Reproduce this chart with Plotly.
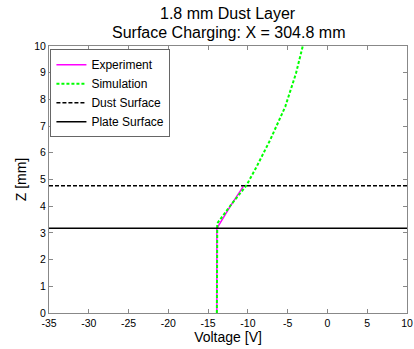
import plotly.graph_objects as go

exp_v = [-13.9, -13.9, -12.2, -10.6]
exp_z = [0.0, 3.17, 4.0, 4.73]

sim_v = [-13.9, -13.9, -13.85, -12.0, -10.2, -8.9, -7.2, -5.3, -3.95, -3.1]
sim_z = [0.0, 3.17, 3.36, 4.1, 4.77, 5.48, 6.48, 7.73, 8.98, 10.0]

dust_z = 4.77
plate_z = 3.17
x_range = [-35, 10]
y_range = [0, 10]
x_ticks = [-35, -30, -25, -20, -15, -10, -5, 0, 5, 10]
x_labels = ["-35", "-30", "-25", "-20", "-15", "-10", "-5", "0", "5", "10"]
y_ticks = [0, 1, 2, 3, 4, 5, 6, 7, 8, 9, 10]
title_lines = ["1.8 mm Dust Layer", "Surface Charging: X = 304.8 mm"]

fig = go.Figure()
fig.add_trace(go.Scatter(x=exp_v, y=exp_z, mode="lines", name="Experiment",
                         line=dict(color="#ff00ff", width=1.5)))
fig.add_trace(go.Scatter(x=sim_v, y=sim_z, mode="lines", name="Simulation",
                         line=dict(color="#00ff00", width=2, dash="3px,2px")))
fig.add_trace(go.Scatter(x=x_range, y=[dust_z, dust_z], mode="lines", name="Dust Surface",
                         line=dict(color="black", width=1.5, dash="4px,2px")))
fig.add_trace(go.Scatter(x=x_range, y=[plate_z, plate_z], mode="lines", name="Plate Surface",
                         line=dict(color="black", width=1.5)))

axis_common = dict(showgrid=False, zeroline=False, showline=True, linecolor="#888888",
                   linewidth=1, mirror="ticks", ticks="inside", ticklen=4,
                   tickcolor="#888888", tickfont=dict(size=10.5, color="black"),
                   automargin=False)

fig.update_layout(
    width=414, height=349,
    margin=dict(l=49, r=7, t=46, b=36),
    paper_bgcolor="white", plot_bgcolor="white",
    font=dict(family="Liberation Sans", color="black"),
    xaxis=dict(range=x_range, tickvals=x_ticks, ticktext=x_labels,
               title=dict(text="Voltage [V]", font=dict(size=14), standoff=0),
               **axis_common),
    yaxis=dict(range=y_range, tickvals=y_ticks, title=dict(text="Z [mm]", font=dict(size=14), standoff=4),
               **axis_common),
    legend=dict(x=0.004, y=0.988, xanchor="left", yanchor="top", bgcolor="white",
                bordercolor="#666666", borderwidth=1, font=dict(size=12),
                tracegroupgap=0, itemwidth=30),
    showlegend=True,
)
fig.add_annotation(text=title_lines[0], xref="paper", yref="paper", x=0.5, y=(313 - 14) / 267,
                   xanchor="center", yanchor="middle", showarrow=False, font=dict(size=16))
fig.add_annotation(text=title_lines[1], xref="paper", yref="paper", x=0.5, y=(313 - 32) / 267,
                   xanchor="center", yanchor="middle", showarrow=False, font=dict(size=16))

fig.write_html("out.html", config={"displayModeBar": False},
               post_script="document.body.style.margin='0px';document.body.style.padding='0px';")
